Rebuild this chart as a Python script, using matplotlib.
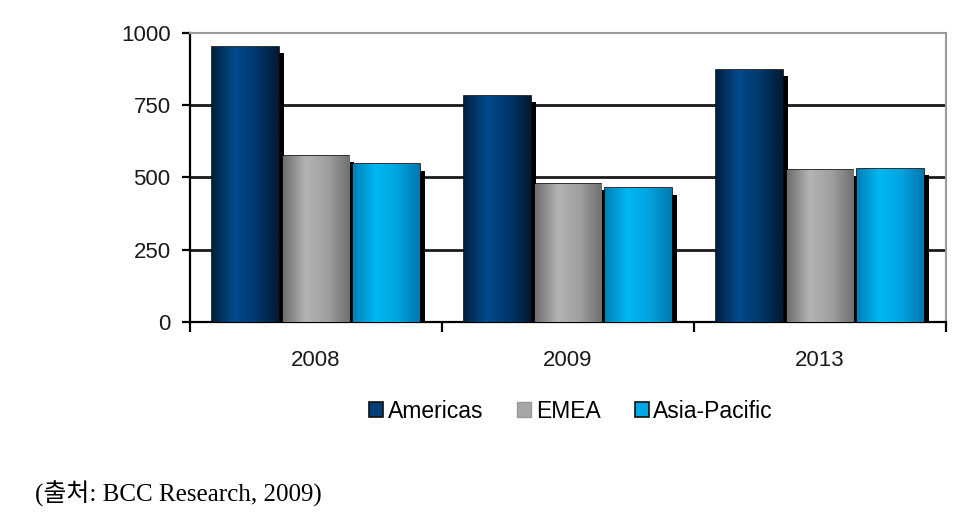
import matplotlib.pyplot as plt
import numpy as np
from matplotlib.colors import LinearSegmentedColormap
from matplotlib.patches import Patch

# data
years = ["2008", "2009", "2013"]
regions = ["Americas", "EMEA", "Asia-Pacific"]
americas = [952, 782, 872]
emea = [575, 478, 527]
asia_pacific = [545, 462, 530]

series = [americas, emea, asia_pacific]
face_colors = ["#003f7a", "#a6a6a6", "#00a8e6"]
gradients = [
    ["#00213f", "#004a8c", "#00386c", "#001a33"],
    ["#6e6e6e", "#b4b4b4", "#a0a0a0", "#707070"],
    ["#007fb8", "#00b8f2", "#00a4e0", "#0078b0"],
]

plt.rcParams['font.family'] = ['Liberation Sans', 'DejaVu Sans']

fig = plt.figure(figsize=(9.71, 5.26), dpi=100)
ax = fig.add_axes([0.1957, 0.3878, 0.7786, 0.5495])

x = np.arange(len(years))
width = 0.265
offsets = [-0.28, 0.0, 0.28]
shadow_dx = 0.02
shadow_dy = 22

for vals, off, col, grad in zip(series, offsets, face_colors, gradients):
    pos = x + off
    # drop shadow on the right
    ax.bar(pos + shadow_dx, np.array(vals) - shadow_dy, width, color="black",
           zorder=2)
    bars = ax.bar(pos, vals, width, color=col, edgecolor="#0a0a0a",
                  linewidth=1.2, zorder=3)
    cmap = LinearSegmentedColormap.from_list("g", grad)
    for b in bars:
        x0, w, h = b.get_x(), b.get_width(), b.get_height()
        im = ax.imshow(np.linspace(0, 1, 64).reshape(1, -1), cmap=cmap,
                       aspect="auto", extent=[x0, x0 + w, 0, h], zorder=3.5)
        im.set_clip_path(b)

ax.set_xlim(-0.5, 2.5)
ax.set_ylim(0, 1000)
ax.set_yticks([0, 250, 500, 750, 1000])
ax.set_yticklabels(["0", "250", "500", "750", "1000"])
ax.set_xticks(x)
ax.set_xticklabels(years)
ax.set_xticks([-0.5, 0.5, 1.5, 2.5], minor=True)

for y in [250, 500, 750]:
    ax.axhline(y, color="#1a1a1a", linewidth=2, zorder=1)

ax.spines["top"].set_color("#9a9a9a")
ax.spines["right"].set_color("#9a9a9a")
ax.spines["left"].set_color("black")
ax.spines["bottom"].set_color("black")
ax.spines["left"].set_linewidth(1.6)
ax.spines["bottom"].set_linewidth(1.6)
ax.spines["top"].set_linewidth(1.5)
ax.spines["right"].set_linewidth(1.5)

ax.tick_params(axis="y", length=6, width=1.6, pad=8, labelsize=16,
               labelcolor="#1a1a1a")
ax.tick_params(axis="x", which="major", length=0, pad=20, labelsize=16,
               labelcolor="#1a1a1a")
ax.tick_params(axis="x", which="minor", length=7, width=1.6)

handles = [Patch(facecolor=c, edgecolor="#101010", linewidth=1.2)
           for c in face_colors]
handles[1] = Patch(facecolor=face_colors[1], edgecolor="#9a9a9a", linewidth=1.0)
fig.legend(handles, regions, loc="center", bbox_to_anchor=(0.588, 0.218),
           ncol=3, frameon=False, fontsize=16.5, handlelength=0.6,
           handleheight=0.6, handletextpad=0.2, columnspacing=1.5)

fig.text(0.036, 0.062, "(출처: BCC Research, 2009)",
         family=['Liberation Serif', 'Noto Sans CJK KR'], fontsize=18,
         color="black", va="center")

fig.savefig("out.png", dpi=100)
